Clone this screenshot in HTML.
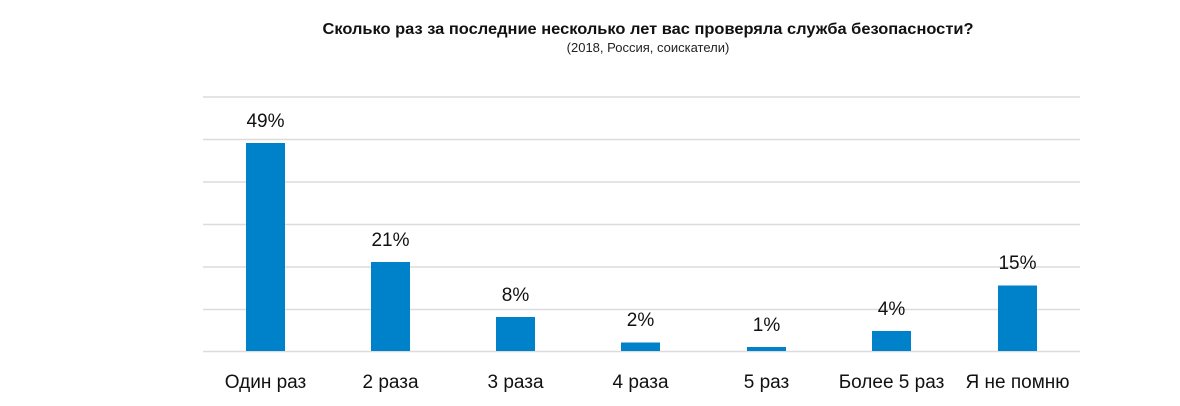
<!DOCTYPE html>
<html><head><meta charset="utf-8"><style>body{margin:0;background:#fff}svg{display:block}</style></head>
<body>
<svg width="1180" height="406" xmlns="http://www.w3.org/2000/svg" font-family="Liberation Sans, sans-serif">
<text x="648" y="34" text-anchor="middle" font-size="16" font-weight="bold" fill="#111" textLength="651" lengthAdjust="spacingAndGlyphs">Сколько раз за последние несколько лет вас проверяла служба безопасности?</text>
<text x="648" y="52" text-anchor="middle" font-size="13" fill="#222">(2018, Россия, соискатели)</text>
<g stroke="#dcdcdc" stroke-width="1.5">
<line x1="203" x2="1080" y1="97" y2="97"/>
<line x1="203" x2="1080" y1="139.5" y2="139.5"/>
<line x1="203" x2="1080" y1="182" y2="182"/>
<line x1="203" x2="1080" y1="224.5" y2="224.5"/>
<line x1="203" x2="1080" y1="267" y2="267"/>
<line x1="203" x2="1080" y1="309.5" y2="309.5"/>
<line x1="203" x2="1080" y1="351.5" y2="351.5"/>
</g>
<g fill="#0082ca">
<rect x="246" y="143" width="39" height="208"/>
<rect x="371" y="262" width="39" height="89"/>
<rect x="496" y="317" width="39" height="34"/>
<rect x="621" y="342.5" width="39" height="8.5"/>
<rect x="747" y="347" width="39" height="4"/>
<rect x="872" y="331" width="39" height="20"/>
<rect x="998" y="285.5" width="39" height="65.5"/>
</g>
<g font-size="19" fill="#111" text-anchor="middle">
<text x="265.5" y="127">49%</text>
<text x="390.5" y="246">21%</text>
<text x="515.5" y="301">8%</text>
<text x="640.5" y="326">2%</text>
<text x="766.5" y="331">1%</text>
<text x="891.5" y="315">4%</text>
<text x="1017.5" y="269">15%</text>
</g>
<g font-size="19" fill="#111" text-anchor="middle">
<text x="265.5" y="388">Один раз</text>
<text x="390.5" y="388">2 раза</text>
<text x="515.5" y="388">3 раза</text>
<text x="640.5" y="388">4 раза</text>
<text x="766.5" y="388">5 раз</text>
<text x="891.5" y="388">Более 5 раз</text>
<text x="1017.5" y="388">Я не помню</text>
</g>
</svg>
</body></html>
